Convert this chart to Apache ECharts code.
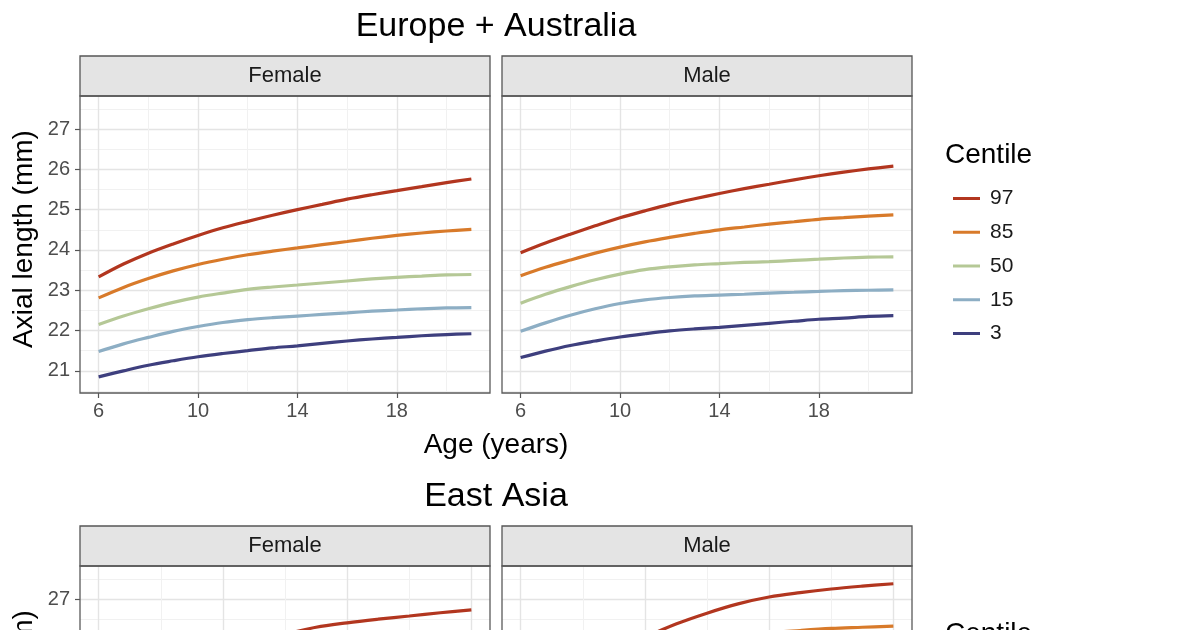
<!DOCTYPE html>
<html>
<head>
<meta charset="utf-8">
<script src="https://cdn.jsdelivr.net/npm/echarts@6/dist/echarts.min.js"></script>
<style>
html,body{margin:0;padding:0;background:#fff;overflow:hidden;}
#chart{width:1200px;height:630px;}
</style>
</head>
<body>
<div id="chart"></div>
<script>
// ---------- data ----------
const centiles = ['97', '85', '50', '15', '3'];
const agesEU = [6, 7, 8, 9, 10, 11, 12, 13, 14, 15, 16, 17, 18, 19, 20, 21];
const agesEA = [6, 7, 8, 9, 10, 11, 12, 13, 14, 15, 16, 17, 18];

// Europe + Australia, Female
const euF97 = [23.33, 23.65, 23.92, 24.15, 24.36, 24.55, 24.71, 24.86, 25.00, 25.13, 25.26, 25.37, 25.47, 25.57, 25.67, 25.76];
const euF85 = [22.81, 23.07, 23.29, 23.48, 23.64, 23.77, 23.88, 23.97, 24.05, 24.13, 24.21, 24.29, 24.36, 24.42, 24.47, 24.51];
const euF50 = [22.15, 22.36, 22.54, 22.70, 22.83, 22.93, 23.02, 23.08, 23.13, 23.18, 23.23, 23.28, 23.32, 23.35, 23.38, 23.39];
const euF15 = [21.48, 21.67, 21.83, 21.98, 22.10, 22.20, 22.27, 22.32, 22.36, 22.40, 22.44, 22.48, 22.51, 22.54, 22.56, 22.57];
const euF3  = [20.85, 21.00, 21.14, 21.25, 21.35, 21.43, 21.50, 21.57, 21.62, 21.68, 21.74, 21.79, 21.83, 21.87, 21.90, 21.92];
// Europe + Australia, Male
const euM97 = [23.93, 24.17, 24.39, 24.60, 24.80, 24.97, 25.13, 25.27, 25.40, 25.52, 25.63, 25.74, 25.84, 25.93, 26.01, 26.08];
const euM85 = [23.36, 23.57, 23.75, 23.92, 24.07, 24.20, 24.31, 24.41, 24.50, 24.57, 24.64, 24.70, 24.76, 24.80, 24.84, 24.87];
const euM50 = [22.68, 22.90, 23.09, 23.26, 23.40, 23.51, 23.58, 23.63, 23.66, 23.69, 23.71, 23.74, 23.77, 23.80, 23.82, 23.83];
const euM15 = [21.98, 22.19, 22.38, 22.54, 22.67, 22.76, 22.82, 22.86, 22.88, 22.90, 22.93, 22.95, 22.97, 22.99, 23.00, 23.01];
const euM3  = [21.33, 21.49, 21.63, 21.74, 21.84, 21.92, 21.99, 22.04, 22.08, 22.13, 22.18, 22.23, 22.28, 22.31, 22.35, 22.37];
// East Asia, Female (mostly below the visible area; estimated)
const eaF97 = [24.20, 24.60, 24.95, 25.30, 25.60, 25.88, 26.12, 26.30, 26.41, 26.50, 26.58, 26.66, 26.73];
const eaF85 = [23.50, 23.85, 24.20, 24.50, 24.78, 25.02, 25.22, 25.38, 25.50, 25.60, 25.68, 25.75, 25.80];
const eaF50 = [22.75, 23.05, 23.35, 23.62, 23.85, 24.05, 24.20, 24.32, 24.42, 24.50, 24.56, 24.60, 24.63];
const eaF15 = [22.05, 22.30, 22.55, 22.78, 22.98, 23.14, 23.27, 23.37, 23.45, 23.51, 23.56, 23.60, 23.63];
const eaF3  = [21.40, 21.62, 21.83, 22.02, 22.20, 22.35, 22.47, 22.57, 22.65, 22.72, 22.78, 22.83, 22.87];
// East Asia, Male
const eaM97 = [24.40, 24.80, 25.25, 25.70, 26.05, 26.38, 26.65, 26.88, 27.05, 27.16, 27.25, 27.32, 27.38];
const eaM85 = [23.80, 24.20, 24.60, 25.00, 25.35, 25.65, 25.88, 26.05, 26.16, 26.22, 26.27, 26.30, 26.33];
const eaM50 = [23.00, 23.35, 23.70, 24.05, 24.38, 24.65, 24.86, 25.00, 25.10, 25.17, 25.22, 25.26, 25.29];
const eaM15 = [22.30, 22.60, 22.92, 23.22, 23.50, 23.73, 23.90, 24.03, 24.12, 24.18, 24.23, 24.27, 24.30];
const eaM3  = [21.65, 21.90, 22.15, 22.40, 22.62, 22.80, 22.95, 23.06, 23.14, 23.20, 23.25, 23.29, 23.32];

// tick labels / grid breaks
const xMajorTicks = [6, 10, 14, 18];
const xMinorEU = [8, 12, 16, 20];
const xMinorEA = [8, 12, 16];
const yMajorTicks = [21, 22, 23, 24, 25, 26, 27];
const yMinorTicks = [20.5, 21.5, 22.5, 23.5, 24.5, 25.5, 26.5, 27.5];

// ---------- styles ----------
const FONT = '"Liberation Sans", Arial, Helvetica, sans-serif';
const colors = ['#B2361F', '#D87A2A', '#B5C896', '#8DAEC4', '#3E3F7E'];

const panels = [
  { left: 80,  top: 96,  width: 410, height: 297, xmin: 5.25, xmax: 21.75, minor: xMinorEU, yLab: true,  ages: agesEU, sets: [euF97, euF85, euF50, euF15, euF3] },
  { left: 502, top: 96,  width: 410, height: 297, xmin: 5.25, xmax: 21.75, minor: xMinorEU, yLab: false, ages: agesEU, sets: [euM97, euM85, euM50, euM15, euM3] },
  { left: 80,  top: 566, width: 410, height: 297, xmin: 5.4,  xmax: 18.6,  minor: xMinorEA, yLab: true,  ages: agesEA, sets: [eaF97, eaF85, eaF50, eaF15, eaF3] },
  { left: 502, top: 566, width: 410, height: 297, xmin: 5.4,  xmax: 18.6,  minor: xMinorEA, yLab: false, ages: agesEA, sets: [eaM97, eaM85, eaM50, eaM15, eaM3] }
];
const YMIN = 20.45, YMAX = 27.82;

const grid = [], xAxis = [], yAxis = [], series = [];
panels.forEach((p, g) => {
  grid.push({ left: p.left, top: p.top, width: p.width, height: p.height,
    containLabel: false, outerBoundsMode: 'none', show: false });
  // minor grid axes (no labels)
  xAxis.push({ type: 'value', gridIndex: g, position: 'bottom', min: p.xmin, max: p.xmax,
    axisLine: { show: false }, axisLabel: { show: false },
    axisTick: { show: false, customValues: p.minor },
    splitLine: { show: true, lineStyle: { color: '#F1F1F1', width: 1 } } });
  yAxis.push({ type: 'value', gridIndex: g, position: 'left', min: YMIN, max: YMAX,
    axisLine: { show: false }, axisLabel: { show: false },
    axisTick: { show: false, customValues: yMinorTicks },
    splitLine: { show: true, lineStyle: { color: '#F1F1F1', width: 1 } } });
  // major axes
  xAxis.push({ type: 'value', gridIndex: g, position: 'bottom', offset: 0, min: p.xmin, max: p.xmax,
    axisLine: { show: false },
    axisTick: { show: true, length: 5, customValues: xMajorTicks, lineStyle: { color: '#555', width: 1.2 } },
    axisLabel: { show: true, customValues: xMajorTicks, fontSize: 20, color: '#4d4d4d', margin: 8, fontFamily: FONT },
    splitLine: { show: true, lineStyle: { color: '#E4E4E4', width: 1.4 } } });
  yAxis.push({ type: 'value', gridIndex: g, position: 'left', offset: 0, min: YMIN, max: YMAX,
    axisLine: { show: false },
    axisTick: { show: p.yLab, length: 5, customValues: yMajorTicks, lineStyle: { color: '#555', width: 1.2 } },
    axisLabel: { show: p.yLab, customValues: yMajorTicks, fontSize: 20, color: '#4d4d4d', margin: 10, fontFamily: FONT },
    splitLine: { show: true, lineStyle: { color: '#E4E4E4', width: 1.4 } } });
  const ai = xAxis.length - 1;
  p.sets.forEach((vals, k) => {
    series.push({
      type: 'line', name: centiles[k], xAxisIndex: ai, yAxisIndex: ai,
      data: p.ages.map((a, i) => [a, vals[i]]),
      smooth: 0.35, showSymbol: false, symbol: 'none', silent: true,
      color: colors[k],
      lineStyle: { width: 3.2, color: colors[k] },
      z: 3
    });
  });
});

function txt(x, y, text, size, fill) {
  return {
    type: 'text', x: x, y: y, z: 50,
    style: { text: text, fontSize: size, fontFamily: FONT, fill: fill || '#000', align: 'center', verticalAlign: 'middle' }
  };
}
const graphic = [];
[0, 470].forEach((dy, r) => {
  graphic.push(txt(496, 26.5 + dy, r === 0 ? 'Europe + Australia' : 'East Asia', 34));
  // strips and panel borders
  [[80, 'Female'], [502, 'Male']].forEach(([x, lab]) => {
    graphic.push({ type: 'rect', z: 40, shape: { x: x, y: 56 + dy, width: 410, height: 40 },
      style: { fill: '#E4E4E4', stroke: '#555', lineWidth: 1.3 } });
    graphic.push(txt(x + 205, 76 + dy, lab, 22, '#1a1a1a'));
    graphic.push({ type: 'rect', z: 45, shape: { x: x, y: 96 + dy, width: 410, height: 297 },
      style: { fill: 'none', stroke: '#5a5a5a', lineWidth: 1.3 } });
  });
  // y axis title
  graphic.push({ type: 'text', x: 24, y: (r === 0 ? 239 : 719), rotation: Math.PI / 2, z: 50,
    style: { text: 'Axial length (mm)', fontSize: 28, fontFamily: FONT, fill: '#000', align: 'center', verticalAlign: 'middle' } });
  // x axis title
  graphic.push(txt(496, 445 + dy, 'Age (years)', 28));
  // legend title
  graphic.push({ type: 'text', x: 945, y: (r === 0 ? 155 : 634), z: 50,
    style: { text: 'Centile', fontSize: 28, fontFamily: FONT, fill: '#000', align: 'left', verticalAlign: 'middle' } });
});

const legendBase = {
  orient: 'vertical', left: 948, itemWidth: 27, itemHeight: 3, itemGap: 12.75,
  icon: 'rect', selectedMode: false, data: centiles,
  textStyle: { fontSize: 21, lineHeight: 21, color: '#1a1a1a', fontFamily: FONT, padding: [0, 0, 0, 5] }
};

const option = {
  animation: false,
  backgroundColor: '#fff',
  grid: grid, xAxis: xAxis, yAxis: yAxis, series: series,
  legend: [Object.assign({}, legendBase, { top: 183 }), Object.assign({}, legendBase, { top: 662 })],
  graphic: graphic
};
const chart = echarts.init(document.getElementById('chart'), null, { renderer: 'canvas' });
chart.setOption(option);
</script>
</body>
</html>
